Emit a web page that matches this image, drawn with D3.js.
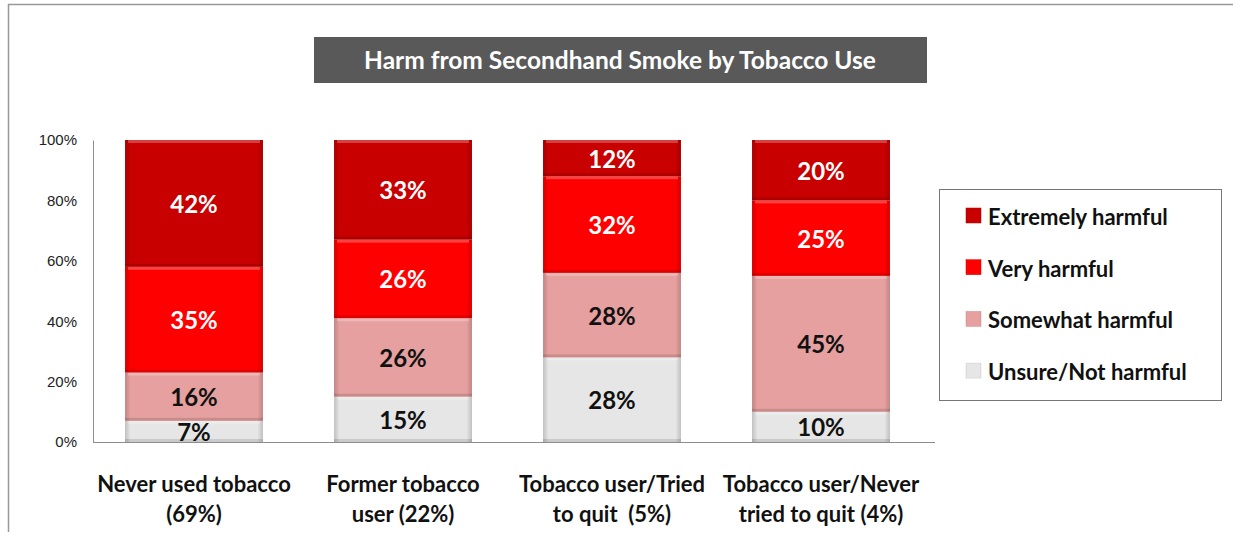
<!DOCTYPE html>
<html><head><meta charset="utf-8">
<script src="https://cdn.jsdelivr.net/npm/d3@7"></script>
<style>body{margin:0;background:#fff}svg{display:block}</style>
</head><body>
<svg id="c" width="1233" height="535"></svg>
<script>
const categories = [["Never used tobacco","(69%)"],["Former tobacco","user (22%)"],["Tobacco user/Tried","to quit  (5%)"],["Tobacco user/Never","tried to quit (4%)"]];
const seriesNames = ["Unsure/Not harmful","Somewhat harmful","Very harmful","Extremely harmful"];
const unsure = [7, 15, 28, 10];
const somewhat = [16, 26, 28, 45];
const very = [35, 26, 32, 25];
const extremely = [42, 33, 12, 20];
const yTicks = [0, 20, 40, 60, 80, 100];
const colors = ["#E6E6E6", "#E5A09F", "#FF0000", "#C80000"];
const textColors = ["#111", "#111", "#fff", "#fff"];

const svg = d3.select("#c");
const F = "Lato, 'Open Sans', sans-serif";

// frame
svg.append("line").attr("x1",8).attr("x2",1233).attr("y1",4.5).attr("y2",4.5).attr("stroke","#999").attr("stroke-width",1.5);
svg.append("line").attr("x1",8.5).attr("x2",8.5).attr("y1",4).attr("y2",532).attr("stroke","#999").attr("stroke-width",1.5);

// title
svg.append("rect").attr("x",314).attr("y",37).attr("width",613).attr("height",46).attr("fill","#595959");
svg.append("text").attr("x",620).attr("y",69).attr("text-anchor","middle").attr("fill","#fff")
  .attr("font-family",F).attr("font-weight","bold").attr("font-size",24.5).text("Harm from Secondhand Smoke by Tobacco Use");

const x = d3.scaleBand().domain(d3.range(categories.length)).range([89.5, 925.5]).paddingInner(0.34).paddingOuter(0.17);
const y = d3.scaleLinear().domain([0, 100]).range([442, 140]);

const defs = svg.append("defs");
colors.forEach((c, i) => {
  const g = defs.append("linearGradient").attr("id","h"+i).attr("x1",0).attr("x2",1).attr("y1",0).attr("y2",0);
  const dk = d3.color(c).darker(0.5);
  g.append("stop").attr("offset","0").attr("stop-color",dk);
  g.append("stop").attr("offset","0.04").attr("stop-color",c);
  g.append("stop").attr("offset","0.96").attr("stop-color",c);
  g.append("stop").attr("offset","1").attr("stop-color",dk);
});

// y axis
const yAxis = svg.append("g").attr("transform","translate(93,0)").call(d3.axisLeft(y).tickValues(yTicks).tickSize(0).tickPadding(16).tickFormat(d => d + "%"));
yAxis.select(".domain").attr("stroke","#8c8c8c");
yAxis.selectAll("text").attr("font-family","'Liberation Sans', Arial, sans-serif").attr("font-size",15).attr("fill","#222");
svg.append("line").attr("x1",93).attr("x2",935).attr("y1",442.5).attr("y2",442.5).attr("stroke","#8c8c8c");

const data = [unsure, somewhat, very, extremely];
const stackData = categories.map((c, i) => { const o = {i}; data.forEach((s, k) => o[k] = s[i]); return o; });
const stack = d3.stack().keys([0,1,2,3])(stackData);

stack.forEach((layer, k) => {
  const g = svg.append("g");
  layer.forEach((d, i) => {
    const x0 = x(i), w = x.bandwidth(), yt = y(d[1]), yb = y(d[0]);
    g.append("rect").attr("x",x0).attr("y",yt).attr("width",w).attr("height",yb-yt).attr("fill","url(#h"+k+")");
    g.append("rect").attr("x",x0+3).attr("y",yt).attr("width",w-6).attr("height",3).attr("fill","#fff").attr("opacity",0.25);
    g.append("rect").attr("x",x0).attr("y",yb-3).attr("width",w).attr("height",3).attr("fill","#000").attr("opacity",0.12);
    g.append("text").attr("x",x0+w/2).attr("y",(yt+yb)/2+9.5).attr("text-anchor","middle")
      .attr("font-family",F).attr("font-weight","bold").attr("font-size",24).attr("fill",textColors[k])
      .text(data[k][i] + "%");
  });
});

// category labels
categories.forEach((c, i) => {
  const t = svg.append("text").attr("text-anchor","middle").attr("font-family",F).attr("font-weight","bold").attr("font-size",22).attr("fill","#111");
  c.forEach((line, j) => t.append("tspan").attr("x", x(i)+x.bandwidth()/2).attr("y", 492 + j*30).attr("xml:space","preserve").text(line));
});

// legend
svg.append("rect").attr("x",939.5).attr("y",189.5).attr("width",282).attr("height",211).attr("fill","#fff").attr("stroke","#777");
const legOrder = [3,2,1,0];
legOrder.forEach((k, r) => {
  const by = 225 + r*51.7;
  svg.append("rect").attr("x",966).attr("y",by-17).attr("width",15).attr("height",15).attr("fill","url(#h"+k+")").attr("stroke",d3.color(colors[k]).darker(0.3)).attr("stroke-width",0.5);
  svg.append("text").attr("x",988).attr("y",by).attr("font-family",F).attr("font-weight","bold").attr("font-size",22).attr("fill","#111").text(seriesNames[k]);
});
</script>
</body></html>
